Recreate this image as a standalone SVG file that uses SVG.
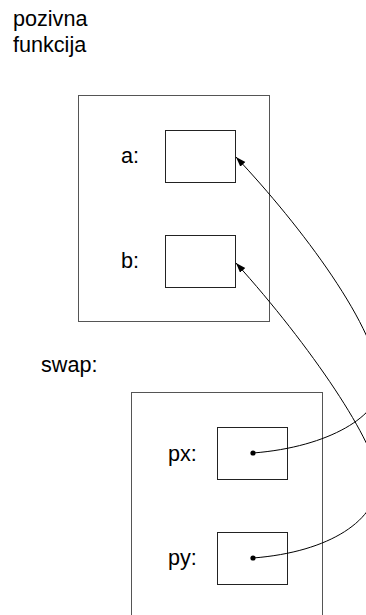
<svg xmlns="http://www.w3.org/2000/svg" width="366" height="615" viewBox="0 0 366 615">
<style>
text{font-family:"Liberation Sans",Arial,sans-serif;font-size:21.6px;fill:#000}
.frame{fill:#fff;stroke:#555;stroke-width:1}
.cell{fill:#fff;stroke:#222;stroke-width:1}
.link{fill:none;stroke:#000;stroke-width:1}
</style>
<defs>
<marker id="arr" markerUnits="userSpaceOnUse" markerWidth="11" markerHeight="8" refX="10" refY="3.5" orient="auto">
<path d="M0,0 L10,3.5 L0,7 z" fill="#000"/>
</marker>
</defs>
<rect width="366" height="615" fill="#fff"/>
<g id="title">
<text x="13" y="26">pozivna</text>
<text x="13" y="52">funkcija</text>
</g>
<g id="caller">
<rect class="frame" x="78.5" y="95.5" width="191" height="226"/>
</g>
<g id="a">
<text x="121" y="163">a:</text>
<rect class="cell" x="165.5" y="130.5" width="70" height="52"/>
</g>
<g id="b">
<text x="121" y="268">b:</text>
<rect class="cell" x="165.5" y="235.5" width="70" height="52"/>
</g>
<g id="swap">
<text x="41" y="372">swap:</text>
<rect class="frame" x="131.5" y="392.5" width="191" height="230"/>
</g>
<g id="px">
<text x="168" y="461">px:</text>
<rect class="cell" x="217.5" y="427.5" width="70" height="52"/>
<circle cx="253" cy="453" r="2.6" fill="#000"/>
</g>
<g id="py">
<text x="168" y="565">py:</text>
<rect class="cell" x="217.5" y="532.5" width="70" height="52"/>
<circle cx="253" cy="558" r="2.6" fill="#000"/>
</g>
<g id="connectors">
<path class="link" marker-end="url(#arr)" d="M253,453 C330,447 380,415 380,385 C380,330 300,225 236,157"/>
<path class="link" marker-end="url(#arr)" d="M253,558 C330,552 378,520 378,480 C378,445 310,345 236,263"/>
</g>
</svg>
